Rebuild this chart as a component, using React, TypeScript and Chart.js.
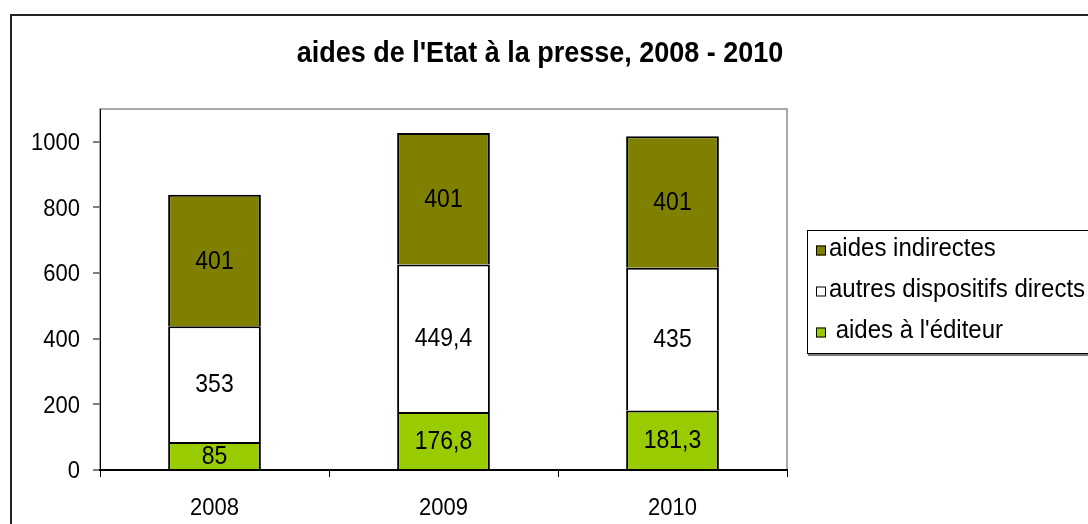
import React, { useEffect, useRef } from "react";
import { Chart, registerables } from "chart.js";

Chart.register(...registerables);

const categories = ["2008", "2009", "2010"];
const aidesEditeur = [85, 176.8, 181.3];
const autresDirects = [353, 449.4, 435];
const aidesIndirectes = [401, 401, 401];
const seriesLabels = [" aides à l'éditeur", "autres dispositifs directs", "aides indirectes"];
const seriesColors = ["#99CC00", "#FFFFFF", "#808000"];
const yTicks = [0, 200, 400, 600, 800, 1000];
const chartTitle = "aides de l'Etat à la presse, 2008 - 2010";

const FONT = "'Liberation Sans', Arial, sans-serif";
const SY = 1.1;

const fmt = (v: number) => String(v).replace(".", ",");

function drawText(ctx: CanvasRenderingContext2D, text: string, x: number, cy: number, size: number, bold: boolean, align: CanvasTextAlign) {
  ctx.save();
  ctx.font = `${bold ? "bold " : ""}${size}px ${FONT}`;
  ctx.fillStyle = "#000";
  ctx.textAlign = align;
  ctx.textBaseline = "alphabetic";
  const capH = 0.716 * size * SY;
  ctx.translate(x, cy + capH / 2);
  ctx.scale(1, SY);
  ctx.fillText(text, 0, 0);
  ctx.restore();
}

const decorPlugin = {
  id: "decor",
  beforeDraw(chart: any) {
    const { ctx, chartArea } = chart;
    ctx.save();
    ctx.fillStyle = "#fff";
    ctx.fillRect(0, 0, chart.width, chart.height);
    ctx.strokeStyle = "#222";
    ctx.lineWidth = 2;
    ctx.strokeRect(11, 15, 2000, 2000);
    ctx.strokeStyle = "#8c8c8c";
    ctx.lineWidth = 1.5;
    ctx.strokeRect(chartArea.left, chartArea.top, chartArea.right - chartArea.left, chartArea.bottom - chartArea.top);
    ctx.restore();
  },
  afterDatasetsDraw(chart: any) {
    const { ctx } = chart;
    chart.data.datasets.forEach((ds: any, i: number) => {
      const meta = chart.getDatasetMeta(i);
      meta.data.forEach((el: any, j: number) => {
        const cy = (el.y + el.base) / 2;
        drawText(ctx, fmt(ds.data[j]), el.x, cy - 1, 23, false, "center");
      });
    });
  },
  afterDraw(chart: any) {
    const { ctx } = chart;
    const xs = chart.scales.x;
    const ys = chart.scales.y;
    // axis labels
    yTicks.forEach((v) => drawText(ctx, String(v), 80, ys.getPixelForValue(v) - 0.5, 22, false, "right"));
    categories.forEach((c, i) => drawText(ctx, c, xs.getPixelForValue(i), 506, 22, false, "center"));
    // title
    drawText(ctx, chartTitle, 540, 51, 27, true, "center");
    // legend box
    ctx.save();
    ctx.strokeStyle = "#000";
    ctx.lineWidth = 1;
    ctx.strokeRect(807.5, 230.5, 400, 123);
    ctx.strokeStyle = "#777";
    ctx.lineWidth = 2;
    ctx.beginPath();
    ctx.moveTo(808, 355);
    ctx.lineTo(1200, 355);
    ctx.stroke();
    const ds = chart.data.datasets;
    const rows = [246.5, 287.5, 328.5];
    for (let k = 0; k < ds.length; k++) {
      const d = ds[ds.length - 1 - k];
      const y = rows[k];
      ctx.fillStyle = d.backgroundColor;
      ctx.fillRect(816, y - 1, 10, 10);
      ctx.strokeStyle = "#000";
      ctx.lineWidth = 1;
      ctx.strokeRect(816.5, y - 0.5, 9, 9);
      drawText(ctx, d.label, 829, y, 24, false, "left");
    }
    ctx.restore();
  },
};

export default function App() {
  const ref = useRef<HTMLCanvasElement | null>(null);
  useEffect(() => {
    if (!ref.current) return;
    const values = [aidesEditeur, autresDirects, aidesIndirectes];
    const chart = new Chart(ref.current, {
      type: "bar",
      data: {
        labels: categories,
        datasets: values.map((v, i) => ({
          label: seriesLabels[i],
          data: v,
          backgroundColor: seriesColors[i],
          borderColor: "#000",
          borderWidth: 2,
          barPercentage: 0.405,
          categoryPercentage: 1,
        })),
      },
      options: {
        responsive: false,
        animation: false,
        devicePixelRatio: 1,
        layout: { padding: { top: 109, right: 301, left: 0, bottom: 0 } },
        plugins: { legend: { display: false }, title: { display: false }, tooltip: { enabled: false } },
        scales: {
          x: {
            stacked: true,
            offset: true,
            grid: { offset: true, drawOnChartArea: false, tickLength: 7, color: "#000", lineWidth: 1 },
            border: { color: "#000", width: 2 },
            ticks: { display: false },
            afterFit: (s: any) => { s.height = 54; },
          },
          y: {
            stacked: true,
            min: 0,
            max: 1100,
            afterBuildTicks: (s: any) => { s.ticks = yTicks.map((v) => ({ value: v })); },
            ticks: { display: false },
            grid: { drawOnChartArea: false, tickLength: 7, color: "#808080", lineWidth: 2 },
            border: { color: "#000", width: 1 },
            afterFit: (s: any) => { s.width = 100; },
          },
        },
      },
      plugins: [decorPlugin],
    });
    return () => chart.destroy();
  }, []);
  return (
    <div style={{ position: "absolute", left: 0, top: 0 }}>
      <canvas ref={ref} width={1088} height={524} style={{ display: "block" }} />
    </div>
  );
}
